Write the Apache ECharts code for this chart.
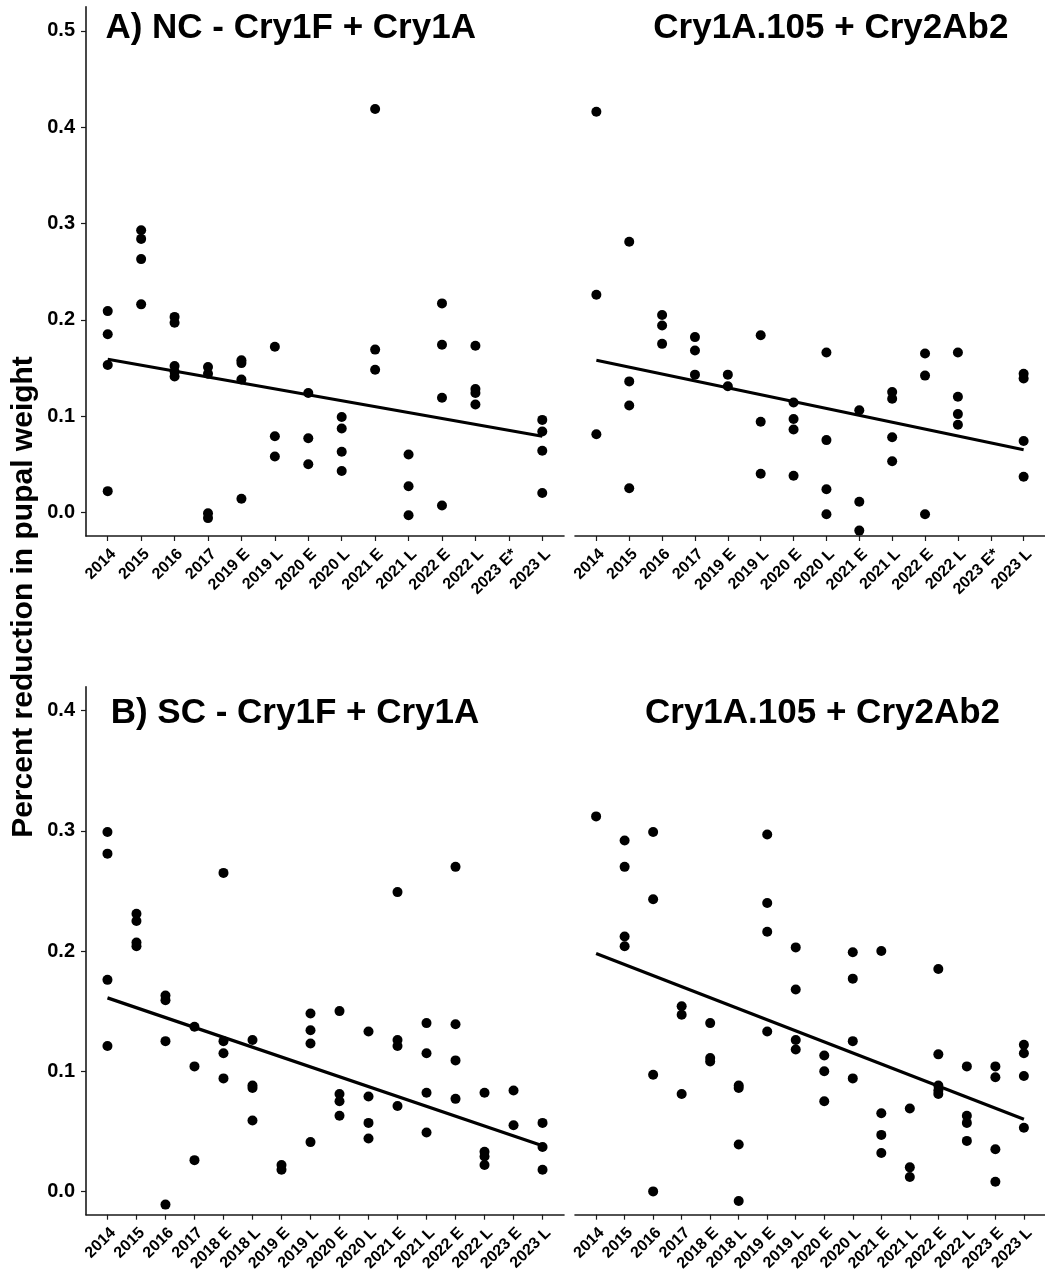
<!DOCTYPE html>
<html>
<head>
<meta charset="utf-8">
<script src="https://cdn.jsdelivr.net/npm/echarts@6/dist/echarts.min.js"></script>
<style>
html,body{margin:0;padding:0;background:#fff;}
#chart{width:1045px;height:1274px;}
</style>
</head>
<body>
<div id="chart"></div>
<script>
// ---------- data ----------
const catsTop = ['2014','2015','2016','2017','2019 E','2019 L','2020 E','2020 L','2021 E','2021 L','2022 E','2022 L','2023 E*','2023 L'];
const catsBottom = ['2014','2015','2016','2017','2018 E','2018 L','2019 E','2019 L','2020 E','2020 L','2021 E','2021 L','2022 E','2022 L','2023 E','2023 L'];

const yTicksTop = [0, 0.1, 0.2, 0.3, 0.4, 0.5];
const yTicksBottom = [0, 0.1, 0.2, 0.3, 0.4];

// A) NC - Cry1F + Cry1A (values per category in catsTop order)
const ncCry1F = [
  [0.209, 0.185, 0.153, 0.022],
  [0.293, 0.284, 0.263, 0.216],
  [0.203, 0.197, 0.152, 0.146, 0.141],
  [0.151, 0.144, -0.001, -0.006],
  [0.158, 0.155, 0.138, 0.014],
  [0.172, 0.079, 0.058],
  [0.124, 0.077, 0.050],
  [0.099, 0.087, 0.063, 0.043],
  [0.419, 0.169, 0.148],
  [0.060, 0.027, -0.003],
  [0.217, 0.174, 0.119, 0.007],
  [0.173, 0.128, 0.124, 0.112],
  [],
  [0.096, 0.084, 0.064, 0.020]
];
const ncCry1FTrend = [0.159, 0.079]; // fitted line at first and last category

// NC - Cry1A.105 + Cry2Ab2
const ncCry1A105 = [
  [0.416, 0.226, 0.081],
  [0.281, 0.136, 0.111, 0.025],
  [0.205, 0.194, 0.175],
  [0.182, 0.168, 0.143],
  [0.143, 0.131],
  [0.184, 0.094, 0.040],
  [0.114, 0.097, 0.086, 0.038],
  [0.166, 0.075, 0.024, -0.002],
  [0.106, 0.011, -0.019],
  [0.125, 0.118, 0.078, 0.053],
  [0.165, 0.142, -0.002],
  [0.166, 0.120, 0.102, 0.091],
  [],
  [0.144, 0.139, 0.074, 0.037]
];
const ncCry1A105Trend = [0.158, 0.065];

// B) SC - Cry1F + Cry1A (values per category in catsBottom order)
const scCry1F = [
  [0.299, 0.281, 0.176, 0.121],
  [0.231, 0.225, 0.207, 0.204],
  [0.163, 0.159, 0.125, -0.011],
  [0.137, 0.104, 0.026],
  [0.265, 0.125, 0.115, 0.094],
  [0.126, 0.088, 0.086, 0.059],
  [0.022, 0.018],
  [0.148, 0.134, 0.123, 0.041],
  [0.150, 0.081, 0.075, 0.063],
  [0.133, 0.079, 0.057, 0.044],
  [0.249, 0.126, 0.121, 0.071],
  [0.140, 0.115, 0.082, 0.049],
  [0.270, 0.139, 0.109, 0.077],
  [0.082, 0.033, 0.029, 0.022],
  [0.084, 0.055],
  [0.057, 0.037, 0.018]
];
const scCry1FTrend = [0.161, 0.038];

// SC - Cry1A.105 + Cry2Ab2
const scCry1A105 = [
  [0.312],
  [0.292, 0.270, 0.212, 0.204],
  [0.299, 0.243, 0.097, 0.000],
  [0.154, 0.147, 0.081],
  [0.140, 0.111, 0.108],
  [0.088, 0.086, 0.039, -0.008],
  [0.297, 0.240, 0.216, 0.133],
  [0.203, 0.168, 0.126, 0.118],
  [0.113, 0.100, 0.075],
  [0.199, 0.177, 0.125, 0.094],
  [0.200, 0.065, 0.047, 0.032],
  [0.069, 0.020, 0.012],
  [0.185, 0.114, 0.088, 0.084, 0.081],
  [0.104, 0.063, 0.057, 0.042],
  [0.104, 0.095, 0.035, 0.008],
  [0.122, 0.115, 0.096, 0.053]
];
const scCry1A105Trend = [0.198, 0.060];

const titles = ['A) NC - Cry1F + Cry1A', 'Cry1A.105 + Cry2Ab2', 'B) SC - Cry1F + Cry1A', 'Cry1A.105 + Cry2Ab2'];
const yAxisTitle = 'Percent reduction in pupal weight';

// ---------- build ----------
const FONT = '"Liberation Sans", Arial, Helvetica, sans-serif';
const AX = '#1a1a1a';

function points(groups) {
  const out = [];
  groups.forEach((vals, i) => vals.forEach(v => out.push([i, v])));
  return out;
}
function trend(t, n) { return [[0, t[0]], [n - 1, t[1]]]; }

const panels = [
  {cats: catsTop, vals: ncCry1F, tr: ncCry1FTrend, left: 86, top: 6.7, height: 529.3, ymin: -0.0246, ymax: 0.5252, pad: 0.65, yShow: true, ticks: yTicksTop},
  {cats: catsTop, vals: ncCry1A105, tr: ncCry1A105Trend, left: 575, top: 6.7, height: 529.3, ymin: -0.0246, ymax: 0.5252, pad: 0.65, yShow: false, ticks: yTicksTop},
  {cats: catsBottom, vals: scCry1F, tr: scCry1FTrend, left: 86, top: 686.7, height: 529, ymin: -0.0194, ymax: 0.4199, pad: 0.74, yShow: true, ticks: yTicksBottom},
  {cats: catsBottom, vals: scCry1A105, tr: scCry1A105Trend, left: 575, top: 686.7, height: 529, ymin: -0.0194, ymax: 0.4199, pad: 0.74, yShow: false, ticks: yTicksBottom}
];

const grid = [], xAxis = [], yAxis = [], series = [];
panels.forEach((p, k) => {
  grid.push({left: p.left, top: p.top, width: 478, height: p.height, containLabel: false});
  const idx = p.cats.map((c, i) => i);
  xAxis.push({
    type: 'value', gridIndex: k, min: -p.pad, max: p.cats.length - 1 + p.pad,
    splitLine: {show: false},
    axisLine: {show: true, onZero: false, lineStyle: {color: AX, width: 1.6}},
    axisTick: {show: true, length: 5, lineStyle: {color: AX, width: 1.2}, customValues: idx},
    axisLabel: {
      show: true, customValues: idx, rotate: 45, margin: 10,
      align: 'right', verticalAlign: 'top',
      fontSize: 16, fontWeight: 'bold', fontFamily: FONT, color: '#000',
      formatter: v => p.cats[Math.round(v)]
    }
  });
  yAxis.push({
    type: 'value', gridIndex: k, min: p.ymin, max: p.ymax,
    splitLine: {show: false},
    axisLine: {show: p.yShow, onZero: false, lineStyle: {color: AX, width: 1.6}},
    axisTick: {show: p.yShow, length: 5, lineStyle: {color: AX, width: 1.2}, customValues: p.ticks},
    axisLabel: {
      show: p.yShow, customValues: p.ticks, margin: 11,
      fontSize: 20, fontWeight: 'bold', fontFamily: FONT, color: '#000',
      formatter: v => v.toFixed(1)
    }
  });
  series.push({
    type: 'scatter', xAxisIndex: k, yAxisIndex: k,
    data: points(p.vals), symbolSize: 10,
    itemStyle: {color: '#000', opacity: 1}, silent: true, z: 3
  });
  series.push({
    type: 'line', xAxisIndex: k, yAxisIndex: k,
    data: trend(p.tr, p.cats.length), symbol: 'none',
    lineStyle: {color: '#000', width: 3.2}, silent: true, z: 2
  });
});

const titlePos = [[105.4, 28.5], [653.3, 28.5], [110.7, 713], [645, 713]];
const graphic = titles.map((t, i) => ({
  type: 'text', x: titlePos[i][0], y: titlePos[i][1],
  style: {text: t, font: 'bold 35px ' + FONT, fill: '#000', align: 'left', verticalAlign: 'middle', textAlign: 'left', textVerticalAlign: 'middle'}
}));
graphic.push({
  type: 'text', x: 24, y: 597, rotation: Math.PI / 2,
  style: {text: yAxisTitle, font: 'bold 30px ' + FONT, fill: '#000', align: 'center', verticalAlign: 'middle', textAlign: 'center', textVerticalAlign: 'middle'}
});

const chart = echarts.init(document.getElementById('chart'), null, {renderer: 'canvas'});
chart.setOption({
  backgroundColor: '#fff',
  animation: false,
  grid, xAxis, yAxis, series, graphic
});
</script>
</body>
</html>
